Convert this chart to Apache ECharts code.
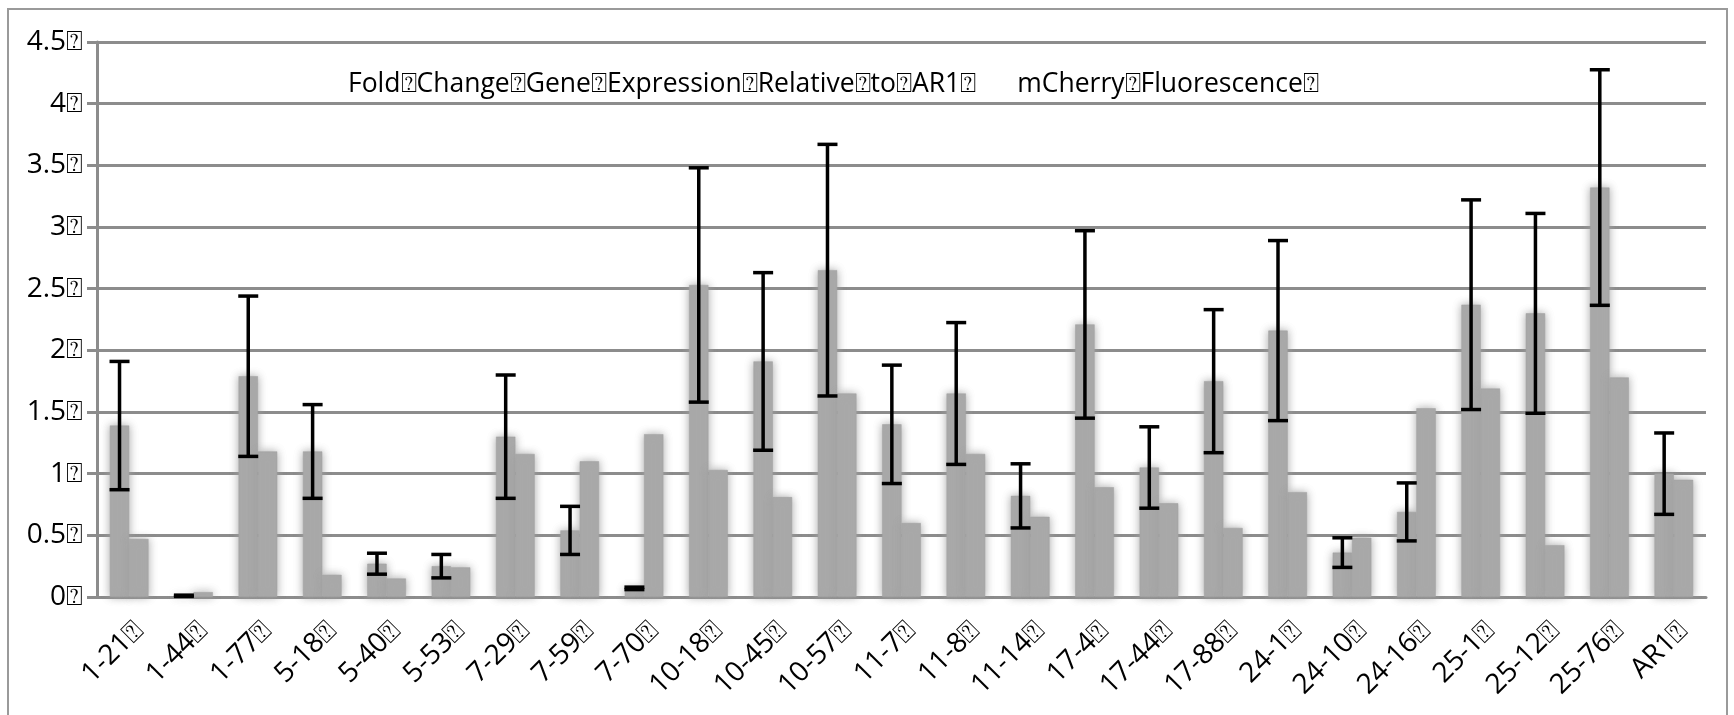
<!DOCTYPE html>
<html>
<head>
<meta charset="utf-8">
<script src="https://cdn.jsdelivr.net/npm/echarts@6/dist/echarts.min.js"></script>
<style>
  html, body { margin: 0; padding: 0; background: #fff; }
  #chart { width: 1734px; height: 715px; }
</style>
</head>
<body>
<div id="chart"></div>
<script>
// the source file lost its spaces, they show up as missing-glyph boxes
var BOX = '\u2370';

var categories = ['1-21', '1-44', '1-77', '5-18', '5-40', '5-53', '7-29', '7-59', '7-70',
  '10-18', '10-45', '10-57', '11-7', '11-8', '11-14', '17-4', '17-44', '17-88',
  '24-1', '24-10', '24-16', '25-1', '25-12', '25-76', 'AR1'];

// fold change of gene expression relative to AR1
var foldChange = [1.39, 0.01, 1.79, 1.18, 0.27, 0.25, 1.30, 0.54, 0.07,
  2.53, 1.91, 2.65, 1.40, 1.65, 0.82, 2.21, 1.05, 1.75,
  2.16, 0.36, 0.69, 2.37, 2.30, 3.32, 1.00];
var foldChangeErr = [0.52, 0.005, 0.65, 0.38, 0.085, 0.095, 0.50, 0.195, 0.01,
  0.95, 0.72, 1.02, 0.48, 0.575, 0.26, 0.76, 0.33, 0.58,
  0.73, 0.12, 0.235, 0.85, 0.81, 0.955, 0.33];

// mCherry fluorescence
var mCherry = [0.47, 0.04, 1.18, 0.18, 0.15, 0.24, 1.16, 1.10, 1.32,
  1.03, 0.81, 1.65, 0.60, 1.16, 0.65, 0.89, 0.76, 0.56,
  0.85, 0.48, 1.53, 1.69, 0.42, 1.78, 0.95];

var seriesNames = [
  'Fold' + BOX + 'Change' + BOX + 'Gene' + BOX + 'Expression' + BOX + 'Relative' + BOX + 'to' + BOX + 'AR1' + BOX,
  'mCherry' + BOX + 'Fluorescence' + BOX
];

var FONT = 'Open Sans';
var BAR_W = 0.30; // share of the category band per bar

var errData = categories.map(function (c, i) {
  return [i, foldChange[i] - foldChangeErr[i], foldChange[i] + foldChangeErr[i]];
});

var myChart = echarts.init(document.getElementById('chart'));

var barStyle = {
  color: '#a9a9a9',
  borderColor: '#a0a0a0',
  borderWidth: 0.5,
  shadowBlur: 9,
  shadowColor: 'rgba(160,160,160,0.95)'
};

var option = {
  backgroundColor: '#fff',
  animation: false,
  textStyle: { fontFamily: FONT },
  graphic: [{
    type: 'rect',
    shape: { x: 8, y: 9, width: 1719, height: 720 },
    style: { fill: 'none', stroke: '#9a9a9a', lineWidth: 2 },
    silent: true
  }],
  legend: {
    left: 338,
    top: 66,
    icon: 'none',
    itemWidth: 0,
    itemGap: 36,
    textStyle: { fontFamily: FONT, fontSize: 26.5, color: '#000' },
    data: seriesNames
  },
  grid: { left: 97, right: 28, top: 42, bottom: 118, containLabel: false, outerBoundsMode: 'none' },
  xAxis: {
    type: 'category',
    data: categories,
    axisLine: { lineStyle: { color: '#8c8c8c', width: 3 } },
    axisTick: { length: 10, lineStyle: { color: '#8c8c8c', width: 3 } },
    axisLabel: {
      rotate: 45,
      interval: 0,
      margin: 19,
      verticalAlign: 'top',
      fontFamily: FONT,
      fontSize: 28,
      color: '#000',
      formatter: function (v) { return v + BOX; }
    }
  },
  yAxis: {
    type: 'value',
    min: 0,
    max: 4.5,
    interval: 0.5,
    axisLine: { show: true, lineStyle: { color: '#8c8c8c', width: 3 } },
    axisTick: { show: true, length: 10, lineStyle: { color: '#8c8c8c', width: 3 } },
    splitLine: { lineStyle: { color: '#8c8c8c', width: 3 } },
    axisLabel: {
      margin: 14,
      fontFamily: FONT,
      fontSize: 28,
      color: '#000',
      formatter: function (v) { return v + BOX; }
    }
  },
  series: [
    {
      name: seriesNames[0],
      type: 'bar',
      data: foldChange,
      barWidth: (BAR_W * 100) + '%',
      barGap: '0%',
      itemStyle: barStyle
    },
    {
      name: seriesNames[1],
      type: 'bar',
      data: mCherry,
      barWidth: (BAR_W * 100) + '%',
      itemStyle: barStyle
    },
    {
      name: 'err',
      type: 'custom',
      data: errData,
      z: 10,
      renderItem: function (params, api) {
        var idx = api.value(0);
        var lo = api.coord([idx, api.value(1)]);
        var hi = api.coord([idx, api.value(2)]);
        var band = api.size([1, 0])[0];
        var x = lo[0] - band * BAR_W / 2;
        var cap = 10;
        var st = { stroke: '#000', lineWidth: 3.5 };
        return {
          type: 'group',
          children: [
            { type: 'line', shape: { x1: x, y1: hi[1], x2: x, y2: lo[1] }, style: st },
            { type: 'line', shape: { x1: x - cap, y1: hi[1], x2: x + cap, y2: hi[1] }, style: st },
            { type: 'line', shape: { x1: x - cap, y1: lo[1], x2: x + cap, y2: lo[1] }, style: st }
          ]
        };
      }
    }
  ]
};

myChart.setOption(option);
</script>
</body>
</html>
